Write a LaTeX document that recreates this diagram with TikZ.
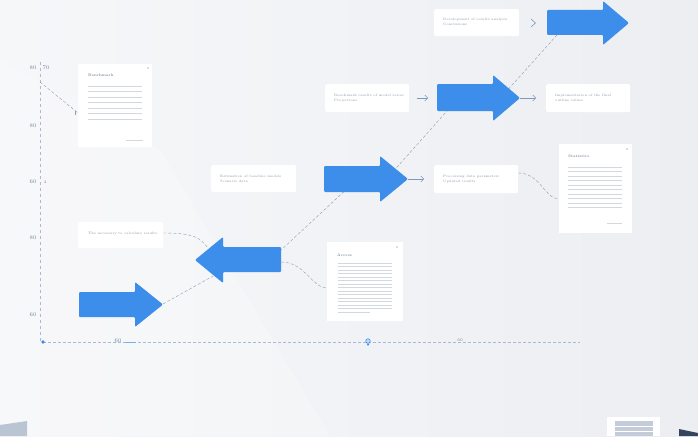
\documentclass[tikz,border=0pt]{standalone}
\usetikzlibrary{arrows.meta}
\definecolor{bgL}{HTML}{F6F7F9}
\definecolor{bgR}{HTML}{ECEEF2}
\definecolor{ablue}{HTML}{3D8EEB}
\definecolor{conn}{HTML}{8A9DB3}
\definecolor{txt}{HTML}{8A95A3}
\definecolor{ttl}{HTML}{5B6E86}
\definecolor{axl}{HTML}{A9BBCF}
\definecolor{axt}{HTML}{6F8299}
\definecolor{rule}{HTML}{D3D8DF}
\definecolor{decoA}{HTML}{B9C5D3}
\definecolor{decoB}{HTML}{C3CCD8}
\definecolor{decoC}{HTML}{34445F}
\begin{document}
\begin{tikzpicture}[x=1pt,y=-1pt,
  tbox/.style={fill=white, rounded corners=1.5pt, inner sep=0pt, anchor=north west},
  card/.style={fill=white, inner sep=0pt, anchor=north west},
  tinytxt/.style={font=\fontsize{3.4}{4.6}\selectfont, text=txt, align=left, inner sep=0pt, anchor=west},
  ttltxt/.style={font=\fontsize{3.8}{4.6}\selectfont, text=ttl, inner sep=0pt, anchor=west},
  axlab/.style={font=\fontsize{5.5}{6}\selectfont, text=axt, inner sep=0pt},
  conline/.style={draw=conn, densely dashed, line width=0.4pt},
  bigarrow/.style={fill=ablue, rounded corners=1pt},
  smallarr/.style={draw=conn!80!ablue, line width=0.5pt, -{Straight Barb[length=3pt,width=6pt]}},
  ruleline/.style={draw=rule, line width=0.5pt}]
% background
\shade[left color=bgL, right color=bgR] (0,0) rectangle (698,436);
\fill[white, opacity=0.22] (0,60) -- (160,150) -- (330,436) -- (0,436) -- cycle;
\path[use as bounding box] (0,0) rectangle (698,436);

% axes
\coordinate (yTop) at (40,62);
\coordinate (orig) at (43,342);
\coordinate (xEnd) at (580,342);
\draw[axl, dashed, line width=0.5pt] (yTop) -- (40,342);
\draw[axl, densely dashed, line width=0.5pt] (orig) -- (xEnd);
\fill[ablue] (orig) circle (1.8pt);
\draw[ablue!70, line width=0.9pt] (125,342) -- (136,342);
\node[axlab] (xl1) at (118,341) {60};
\node[axlab, font=\fontsize{4}{5}\selectfont] (xl2) at (460,340) {60};
\node[circle, draw=ablue, fill=ablue!30, line width=0.6pt, minimum size=4.5pt, inner sep=0pt] (pin) at (368,341) {};
\fill[ablue] (366.5,343.5) -- (369.5,343.5) -- (368,346) -- cycle;
\node[axlab] (yl1) at (33,68) {80};
\node[axlab] (yl1b) at (46,68) {70};
\node[axlab] (yl2) at (33,126) {80};
\node[axlab] (yl3) at (33,182) {60};
\node[axlab, font=\fontsize{4}{5}\selectfont] (yl3b) at (45,182) {4};
\node[axlab] (yl4) at (33,238) {80};
\node[axlab] (yl5) at (33,315) {60};

% card 1
\node[card, minimum width=74pt, minimum height=83pt] (c1) at (78,64) {};
\node[ttltxt] (c1t) at (88,75) {Benchmark};
\node[font=\fontsize{3.5}{4}\selectfont, text=txt, inner sep=0pt] (c1x) at (148,69) {x};
\foreach \yy in {86,91.5,...,122} \draw[ruleline] (88,\yy) -- (142,\yy);
\draw[ruleline] (126,140) -- (143,140);
\coordinate (ax1) at (40,82);
\draw[conline] (ax1) -- (c1.west |- 0,113);
\draw[conn, line width=0.4pt] (75,111) -- (75,115);

% card 2
\node[card, minimum width=73pt, minimum height=89pt] (c2) at (559,144) {};
\node[ttltxt] (c2t) at (568,156) {Statistics};
\node[font=\fontsize{3.5}{4}\selectfont, text=txt, inner sep=0pt] (c2x) at (627,150) {x};
\foreach \yy in {167,171.5,...,208} \draw[ruleline] (568,\yy) -- (622,\yy);
\draw[ruleline] (607,223) -- (622,223);

% card 3
\node[card, minimum width=76pt, minimum height=79pt] (c3) at (327,242) {};
\node[ttltxt] (c3t) at (337,255) {Access};
\node[font=\fontsize{3.5}{4}\selectfont, text=txt, inner sep=0pt] (c3x) at (397,248) {x};
\foreach \yy in {263,266.5,...,310} \draw[ruleline] (338,\yy) -- (392,\yy);
\draw[ruleline] (338,312) -- (370,312);

% text boxes
\node[tbox, minimum width=85pt, minimum height=26pt] (A) at (78,222) {};
\node[tinytxt] at (88,234) {The necessary to calculate results};
\node[tbox, minimum width=85pt, minimum height=27pt] (B) at (211,165) {};
\node[tinytxt] at (220,179) {Estimation of baseline models\\Scenario data};
\node[tbox, minimum width=84pt, minimum height=28pt] (C) at (434,165) {};
\node[tinytxt] at (443,179) {Processing data parameters\\Updated results};
\node[tbox, minimum width=84pt, minimum height=28pt] (D) at (325,84) {};
\node[tinytxt] at (334,98) {Benchmark results of model series\\Projections};
\node[tbox, minimum width=84pt, minimum height=28pt] (E) at (546,84) {};
\node[tinytxt] at (555,98) {Implementation of the final\\outline values};
\node[tbox, minimum width=85pt, minimum height=27pt] (F) at (434,9) {};
\node[tinytxt] at (443,22) {Development of results analysis\\Conclusions};

% diagonal connector segments (behind arrows)
\coordinate (a1tip) at (163,304);
\coordinate (a2in) at (240,261);
\coordinate (a2out) at (265,265);
\coordinate (a3in) at (350,186);
\coordinate (a3out) at (390,175);
\coordinate (a4in) at (455,102);
\coordinate (a4out) at (505,93);
\coordinate (a5in) at (565,26);
\draw[conline] (a1tip) -- (a2in);
\draw[conline] (a2out) -- (a3in);
\draw[conline] (a3out) -- (a4in);
\draw[conline] (a4out) -- (a5in);

% other connectors
\coordinate (a2head) at (208,248);
\coordinate (a2body) at (281,262);
\draw[conline] (A.east |- 0,233) .. controls (195,233) and (200,238) .. (a2head);
\draw[conline] (a2body) .. controls (305,262) and (312,288) .. (c3.west |- 0,288);
\draw[conline] (C.east |- 0,173) .. controls (540,173) and (545,199) .. (c2.west |- 0,199);

% big arrows
\fill[bigarrow] (79,292) -- (135,292) -- (135,282) -- (163,304.5) -- (135,327) -- (135,317) -- (79,317) -- cycle;
\fill[bigarrow] (281,247) -- (223,247) -- (223,237) -- (195,260) -- (223,283) -- (223,272) -- (281,272) -- cycle;
\fill[bigarrow] (324,166) -- (380,166) -- (380,156) -- (408,179) -- (380,202) -- (380,192) -- (324,192) -- cycle;
\fill[bigarrow] (437,84) -- (493,84) -- (493,75) -- (520,98) -- (493,121) -- (493,111) -- (437,111) -- cycle;
\fill[bigarrow] (547,10) -- (603,10) -- (603,1) -- (629,23) -- (603,45) -- (603,35) -- (547,35) -- cycle;

% small arrows
\coordinate (a3tip) at (408,179);
\coordinate (s1) at (424,179);
\draw[smallarr] (a3tip) -- (s1);
\coordinate (s2a) at (417,98);
\coordinate (s2b) at (428,98);
\draw[smallarr] (s2a) -- (s2b);
\coordinate (a4tip) at (520,98);
\coordinate (s3) at (536,98);
\draw[smallarr] (a4tip) -- (s3);
\draw[conn!80!ablue, line width=0.6pt] (531,19) -- (535.5,23) -- (531,27);

% bottom decorations
\fill[decoA] (0,425) -- (27,421) -- (27,436) -- (0,436) -- cycle;
\fill[white] (607,417) rectangle (660,436);
\fill[decoB] (615,421) rectangle (653,436);
\draw[white, line width=0.5pt] (615,426) -- (653,426) (615,431) -- (653,431);
\fill[decoC] (679,429) -- (698,433) -- (698,436) -- (679,436) -- cycle;
\end{tikzpicture}
\end{document}
